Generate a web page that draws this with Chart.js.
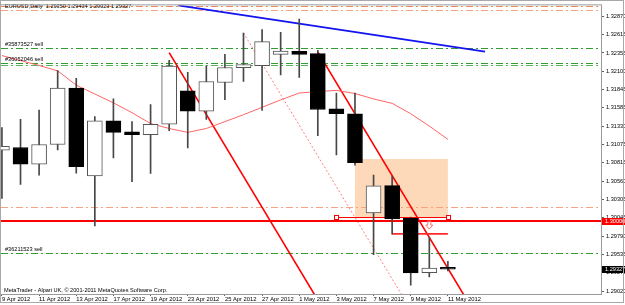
<!DOCTYPE html>
<html>
<head>
<meta charset="utf-8">
<script src="https://cdn.jsdelivr.net/npm/chart.js@4.4.0/dist/chart.umd.min.js"></script>
<style>
  html, body { margin: 0; padding: 0; background: #fff; }
  #wrap { width: 625px; height: 305px; }
</style>
</head>
<body>
<div id="wrap"><canvas id="chart" width="625" height="305"></canvas></div>
<script>
// daily bars, EURUSD
const dates = ['9 Apr 2012', '10 Apr 2012', '11 Apr 2012', '12 Apr 2012', '13 Apr 2012',
  '16 Apr 2012', '17 Apr 2012', '18 Apr 2012', '19 Apr 2012', '20 Apr 2012',
  '23 Apr 2012', '24 Apr 2012', '25 Apr 2012', '26 Apr 2012', '27 Apr 2012',
  '30 Apr 2012', '1 May 2012', '2 May 2012', '3 May 2012', '4 May 2012',
  '7 May 2012', '8 May 2012', '9 May 2012', '10 May 2012', '11 May 2012'];
const opens  = [1.30993, 1.31030, 1.30796, 1.31072, 1.31863, 1.30634, 1.31403, 1.31251, 1.31210, 1.31356,
  1.31825, 1.31541, 1.31941, 1.32148, 1.32176, 1.32336, 1.32377, 1.32346, 1.31573, 1.31504,
  1.30114, 1.30496, 1.30037, 1.29278, 1.29350];
const highs  = [1.31311, 1.31425, 1.31555, 1.32107, 1.32001, 1.31462, 1.31711, 1.31393, 1.31632, 1.32253,
  1.32083, 1.32176, 1.32336, 1.32635, 1.32681, 1.32645, 1.32829, 1.32391, 1.31794, 1.31794,
  1.30644, 1.30630, 1.30055, 1.29769, 1.29434];
const lows   = [1.30317, 1.30514, 1.30644, 1.30997, 1.30672, 1.29931, 1.30883, 1.30552, 1.30666, 1.31265,
  1.31025, 1.31425, 1.31701, 1.31955, 1.31549, 1.32046, 1.32014, 1.31196, 1.30928, 1.30782,
  1.29530, 1.29816, 1.29103, 1.29217, 1.29300];
const closes = [1.31048, 1.30796, 1.31072, 1.31863, 1.30763, 1.31403, 1.31242, 1.31210, 1.31356, 1.32170,
  1.31541, 1.31955, 1.32152, 1.32194, 1.32515, 1.32383, 1.32336, 1.31563, 1.31504, 1.30818,
  1.30492, 1.30031, 1.29272, 1.29341, 1.29327];
const maValues = [1.32318, 1.32249, 1.32180, 1.32104, 1.31904, 1.31780, 1.31656, 1.31518, 1.31366, 1.31297,
  1.31242, 1.31297, 1.31393, 1.31490, 1.31594, 1.31697, 1.31794, 1.31814, 1.31831, 1.31787,
  1.31711, 1.31649, 1.31504, 1.31331, 1.31145];
const priceTicks = [1.32870, 1.32615, 1.32355, 1.32100, 1.31845, 1.31585, 1.31330, 1.31075, 1.30815,
  1.30560, 1.30305, 1.30045, 1.29790, 1.29535, 1.29275, 1.29020];

// objects on the chart: [bar, price] pairs
const sellOrders = [1.32428, 1.32215, 1.29558];
const sellOrderIds = ['#35873527 sell', '#36052046 sell', '#36211523 sell'];
const twinOrder = 1.32187;
const fiboLevels = [1.33008, 1.32953, 1.30193];
const roundLevel = 1.30000;
const blueLine = [9.48, 1.33022, 26.0, 1.32373];
const channelA = [9, 1.32359, 17.5, 1.28676];
const channelB = [17, 1.32370, 25.5, 1.28687];
const dottedLine = [13, 1.32635, 21.7, 1.28888];
const zoneBox = [19, 1.30869, 24, 1.30055];
const segTop = [18, 1.30055, 24, 1.30055];
const segLow = [21, 1.29820, 24, 1.29820];
const sellArrow = [23, 1.29944];
const lastPrice = 1.29327;

const X_MIN = -0.05, X_MAX = 32.24;
const Y_MIN = 1.28978, Y_MAX = 1.33022;
const FONT = '"Liberation Sans", Arial, sans-serif';

function line(ctx, x, y, seg) {
  ctx.beginPath();
  ctx.moveTo(x.getPixelForValue(seg[0]), y.getPixelForValue(seg[1]));
  ctx.lineTo(x.getPixelForValue(seg[2]), y.getPixelForValue(seg[3]));
  ctx.stroke();
}

function hline(ctx, area, y, price) {
  const py = Math.round(y.getPixelForValue(price)) + 0.5;
  ctx.beginPath();
  ctx.moveTo(area.left, py);
  ctx.lineTo(area.right, py);
  ctx.stroke();
}

const overlays = {
  id: 'overlays',
  beforeDatasetsDraw(chart) {
    const { ctx, chartArea: a, scales: { x, y } } = chart;
    ctx.save();
    ctx.beginPath();
    ctx.rect(a.left, a.top, a.right - a.left, a.bottom - a.top);
    ctx.clip();

    // zone rectangle
    ctx.fillStyle = '#fdd8b9';
    const bx1 = x.getPixelForValue(zoneBox[0]), bx2 = x.getPixelForValue(zoneBox[2]);
    const by1 = y.getPixelForValue(zoneBox[1]), by2 = y.getPixelForValue(zoneBox[3]);
    ctx.fillRect(bx1, by1, bx2 - bx1, by2 - by1);

    // fibo style dash-dot levels
    ctx.lineWidth = 1;
    ctx.setLineDash([7, 3, 2, 3]);
    ctx.strokeStyle = '#f28a5e';
    hline(ctx, a, y, fiboLevels[0]);
    ctx.strokeStyle = '#f6a47f';
    hline(ctx, a, y, fiboLevels[1]);
    hline(ctx, a, y, fiboLevels[2]);

    // order lines
    ctx.strokeStyle = '#2e9e2e';
    sellOrders.forEach(p => hline(ctx, a, y, p));
    ctx.strokeStyle = '#58b458';
    hline(ctx, a, y, twinOrder);
    ctx.setLineDash([]);

    // dotted parallel
    ctx.strokeStyle = '#ff8080';
    ctx.setLineDash([2, 2]);
    line(ctx, x, y, dottedLine);
    ctx.setLineDash([]);

    // channel
    ctx.strokeStyle = '#ff0000';
    ctx.lineWidth = 1.6;
    line(ctx, x, y, channelA);
    line(ctx, x, y, channelB);

    // blue trend line
    ctx.strokeStyle = '#1414f0';
    ctx.lineWidth = 1.8;
    line(ctx, x, y, blueLine);

    // round level
    ctx.strokeStyle = '#ff0000';
    ctx.lineWidth = 2;
    const ry = Math.round(y.getPixelForValue(roundLevel));
    ctx.beginPath();
    ctx.moveTo(a.left, ry);
    ctx.lineTo(a.right, ry);
    ctx.stroke();

    // short segments
    ctx.lineWidth = 1;
    const sy = Math.round(y.getPixelForValue(segTop[1])) + 0.5;
    const sx1 = x.getPixelForValue(segTop[0]), sx2 = x.getPixelForValue(segTop[2]);
    ctx.beginPath();
    ctx.moveTo(sx1, sy);
    ctx.lineTo(sx2, sy);
    ctx.stroke();
    ctx.fillStyle = '#fff';
    [sx1, sx2].forEach(px => {
      ctx.fillRect(px - 2, sy - 2, 4, 4);
      ctx.strokeRect(Math.round(px) - 1.5, sy - 2, 4, 4);
    });
    ctx.strokeStyle = '#ff2a2a';
    ctx.lineWidth = 1.6;
    line(ctx, x, y, segLow);

    // sell arrow
    const ax = x.getPixelForValue(sellArrow[0]), ay = y.getPixelForValue(sellArrow[1]);
    ctx.strokeStyle = '#ff7070';
    ctx.lineWidth = 1;
    ctx.beginPath();
    ctx.moveTo(ax - 1.5, ay - 4);
    ctx.lineTo(ax + 1.5, ay - 4);
    ctx.lineTo(ax + 1.5, ay);
    ctx.lineTo(ax + 3.5, ay);
    ctx.lineTo(ax, ay + 4);
    ctx.lineTo(ax - 3.5, ay);
    ctx.lineTo(ax - 1.5, ay);
    ctx.closePath();
    ctx.stroke();

    ctx.restore();
  },
  afterDraw(chart) {
    const { ctx, chartArea: a, scales: { y } } = chart;
    ctx.save();
    ctx.font = '5.6px ' + FONT;
    ctx.fillStyle = '#000';
    ctx.textBaseline = 'middle';
    ctx.textAlign = 'left';
    ctx.fillText('EURUSD,Daily  ' + [opens[24], highs[24], 1.29023, closes[24]].map(v => v.toFixed(5)).join(' '), 5, 6);
    ctx.fillText('MetaTrader - Alpari UK, \u00a9 2001-2011 MetaQuotes Software Corp.', 4, 290);
    sellOrders.forEach((p, i) => {
      ctx.fillText(sellOrderIds[i], 5, y.getPixelForValue(p) - 3.5);
    });

    // price tags on the axis
    const tag = (price, bg) => {
      const py = y.getPixelForValue(price);
      ctx.fillStyle = bg;
      ctx.fillRect(a.right + 1, Math.round(py) - 3, 24, 7);
      ctx.fillStyle = '#fff';
      ctx.fillText(price.toFixed(5), a.right + 4, py + 0.5);
    };
    tag(roundLevel, '#ff0000');
    tag(lastPrice, '#000');

    // frames
    ctx.strokeStyle = '#9a9a9a';
    ctx.lineWidth = 1;
    ctx.strokeRect(a.left - 0.5, a.top - 0.5, a.right - a.left + 1, a.bottom - a.top + 1);
    ctx.strokeStyle = '#a8a8a8';
    ctx.strokeRect(0.5, 0.5, 623, 302);
    ctx.restore();
  }
};

new Chart(document.getElementById('chart'), {
  type: 'bar',
  data: {
    datasets: [
      {
        type: 'line',
        data: maValues.map((v, i) => ({ x: i, y: v })),
        borderColor: '#ff6464',
        borderWidth: 1,
        pointRadius: 0,
        tension: 0,
        order: 3
      },
      {
        data: highs.map((h, i) => ({ x: i, y: [lows[i], h] })),
        backgroundColor: '#474747',
        borderWidth: 0,
        barThickness: 1,
        grouped: false,
        order: 2
      },
      {
        data: opens.map((o, i) => ({ x: i, y: [o, closes[i]] })),
        backgroundColor: opens.map((o, i) => closes[i] >= o ? '#ffffff' : '#000000'),
        borderColor: opens.map((o, i) => closes[i] >= o ? '#555555' : '#000000'),
        borderWidth: 1,
        borderSkipped: false,
        barThickness: 15,
        grouped: false,
        order: 1
      }
    ]
  },
  options: {
    responsive: false,
    animation: false,
    devicePixelRatio: 1,
    events: [],
    layout: { padding: { left: 1, top: 1, right: 0, bottom: 0 } },
    plugins: { legend: { display: false }, tooltip: { enabled: false } },
    scales: {
      x: {
        type: 'linear',
        offset: false,
        min: X_MIN,
        max: X_MAX,
        afterBuildTicks: scale => {
          scale.ticks = dates.map((d, i) => ({ value: i })).filter(t => t.value % 2 === 0);
        },
        afterFit: scale => { scale.height = 11; },
        ticks: {
          callback: v => dates[v],
          align: 'start',
          autoSkip: false,
          maxRotation: 0,
          padding: 0,
          color: '#000',
          font: { family: FONT, size: 5.8 }
        },
        grid: { drawOnChartArea: false, offset: false, tickLength: 2, color: '#606060' },
        border: { color: '#808080' }
      },
      y: {
        position: 'right',
        min: Y_MIN,
        max: Y_MAX,
        afterBuildTicks: scale => {
          scale.ticks = priceTicks.map(v => ({ value: v }));
        },
        afterFit: scale => { scale.width = 24; },
        ticks: {
          callback: v => v.toFixed(5),
          padding: 2,
          color: '#000',
          font: { family: FONT, size: 5.6 }
        },
        grid: { drawOnChartArea: false, tickLength: 3, color: '#606060' },
        border: { color: '#808080' }
      }
    }
  },
  plugins: [overlays]
});
</script>
</body>
</html>
